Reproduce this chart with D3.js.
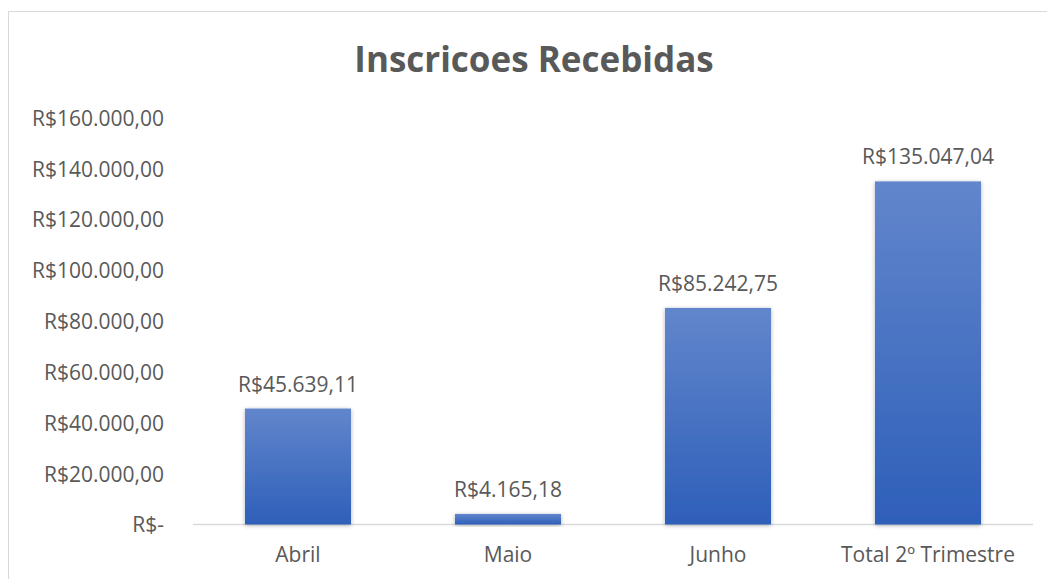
<!DOCTYPE html>
<html>
<head>
<meta charset="utf-8">
<script src="https://cdn.jsdelivr.net/npm/d3@7"></script>
<style>
  body { margin: 0; background: #fff; }
  svg text { font-family: "Open Sans", sans-serif; fill: #595959; }
</style>
</head>
<body>
<svg id="vis" width="1047" height="579"></svg>
<script>
// Datos del gráfico
const CATEGORIAS = ["Abril", "Maio", "Junho", "Total 2º Trimestre"];
const VALORES = [45639.11, 4165.18, 85242.75, 135047.04];
const TICKS = [0, 20000, 40000, 60000, 80000, 100000, 120000, 140000, 160000];

const SVG = d3.select("#vis");

// Marco del gráfico (solo se ven borde izquierdo y superior)
SVG.append("rect")
  .attr("x", 8.5).attr("y", 11.5)
  .attr("width", 1100).attr("height", 700)
  .attr("fill", "none")
  .attr("stroke", "#d9d9d9");

// Título
SVG.append("text")
  .attr("x", 534).attr("y", 72)
  .attr("text-anchor", "middle")
  .style("font-size", "35px")
  .style("font-weight", "bold")
  .text("Inscricoes Recebidas");

// Escalas
const x = d3.scaleBand().domain(CATEGORIAS).range([193, 1033]).paddingInner(0.495).paddingOuter(0.2475);
const y = d3.scaleLinear().domain([0, 160000]).range([524.5, 118]);

// Formato moneda brasileña
const fmtNum = d3.formatLocale({ decimal: ",", thousands: ".", grouping: [3], currency: ["R$", ""] }).format(",.2f");
const moeda = v => v === 0 ? "R$-" : "R$" + fmtNum(v);

// Degradado y sombra para las barras
const defs = SVG.append("defs");
const grad = defs.append("linearGradient").attr("id", "grad").attr("x1", 0).attr("y1", 0).attr("x2", 0).attr("y2", 1);
grad.append("stop").attr("offset", "0%").attr("stop-color", "#6286cc");
grad.append("stop").attr("offset", "100%").attr("stop-color", "#2e5fb9");
const sombra = defs.append("filter").attr("id", "sombra").attr("x", "-20%").attr("y", "-20%").attr("width", "140%").attr("height", "140%");
sombra.append("feDropShadow").attr("dx", 0).attr("dy", 1).attr("stdDeviation", 2).attr("flood-color", "#000").attr("flood-opacity", 0.3);

// Eje Y (etiquetas solamente)
const ejeY = SVG.append("g")
  .attr("transform", "translate(164,0)")
  .call(d3.axisLeft(y).tickValues(TICKS).tickFormat(moeda).tickSize(0).tickPadding(0));
ejeY.select(".domain").remove();
ejeY.selectAll("text")
  .style("font-size", "21px")
  .attr("fill", "#595959")
  .attr("dy", "0.35em");

// Línea base
SVG.append("line")
  .attr("x1", 193).attr("x2", 1033)
  .attr("y1", y(0)).attr("y2", y(0))
  .attr("stroke", "#d9d9d9").attr("stroke-width", 1.5);

// Barras
const datos = CATEGORIAS.map((c, i) => ({ cat: c, val: VALORES[i] }));
SVG.selectAll(".bar")
  .data(datos)
  .join("rect")
  .attr("class", "bar")
  .attr("x", d => x(d.cat))
  .attr("width", x.bandwidth())
  .attr("y", d => y(d.val))
  .attr("height", d => y(0) - y(d.val))
  .attr("fill", "url(#grad)")
  .attr("filter", "url(#sombra)");

// Etiquetas de valor
SVG.selectAll(".valor")
  .data(datos)
  .join("text")
  .attr("class", "valor")
  .attr("x", d => x(d.cat) + x.bandwidth() / 2)
  .attr("y", d => y(d.val) - 17)
  .attr("text-anchor", "middle")
  .style("font-size", "21px")
  .text(d => moeda(d.val));

// Eje X (categorías)
const ejeX = SVG.append("g")
  .attr("transform", `translate(0,${y(0)})`)
  .call(d3.axisBottom(x).tickSize(0).tickPadding(0));
ejeX.select(".domain").remove();
ejeX.selectAll("text")
  .style("font-size", "21px")
  .attr("fill", "#595959")
  .attr("dy", "0")
  .attr("y", 37);
</script>
</body>
</html>
